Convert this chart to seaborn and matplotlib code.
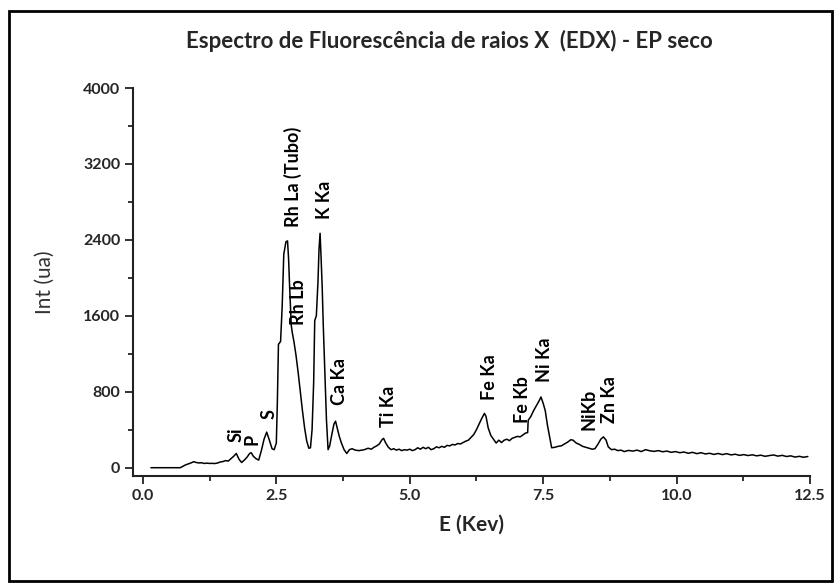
import numpy as np
import pandas as pd
import matplotlib
matplotlib.use("Agg")
import matplotlib.pyplot as plt
import seaborn as sns
from matplotlib.patches import Rectangle
from matplotlib.ticker import MultipleLocator

# energy (keV) and intensity (a.u.)
energy = [0.15, 0.70, 0.75, 0.80, 0.85, 0.90, 0.95, 1.00, 1.05, 1.10, 1.15, 1.20, 1.25, 1.30, 1.35,
          1.40, 1.45, 1.50, 1.55, 1.60, 1.65, 1.70, 1.75, 1.80, 1.85, 1.90, 1.95, 2.00, 2.03, 2.07,
          2.12, 2.17, 2.22, 2.27, 2.32, 2.37, 2.42, 2.46, 2.50, 2.52, 2.54, 2.58, 2.61, 2.64, 2.68,
          2.71, 2.73, 2.75, 2.78, 2.80, 2.83, 2.87, 2.91, 2.95, 2.99, 3.03, 3.07, 3.11, 3.14, 3.17,
          3.20, 3.22, 3.25, 3.28, 3.30, 3.32, 3.34, 3.36, 3.38, 3.41, 3.44, 3.47, 3.50, 3.54, 3.58,
          3.61, 3.64, 3.68, 3.72, 3.77, 3.82, 3.87, 3.92, 3.98, 4.05, 4.10, 4.15, 4.22, 4.28, 4.33,
          4.38, 4.43, 4.48, 4.51, 4.55, 4.60, 4.65, 4.70, 4.75, 4.80, 4.85, 4.90, 4.95, 5.00, 5.05,
          5.10, 5.15, 5.20, 5.25, 5.30, 5.35, 5.40, 5.45, 5.50, 5.55, 5.60, 5.65, 5.70, 5.75, 5.80,
          5.85, 5.90, 5.95, 6.00, 6.05, 6.10, 6.15, 6.20, 6.25, 6.30, 6.35, 6.40, 6.43, 6.47, 6.52,
          6.57, 6.62, 6.67, 6.72, 6.77, 6.82, 6.87, 6.92, 6.97, 7.02, 7.07, 7.12, 7.17, 7.21, 7.22,
          7.27, 7.32, 7.37, 7.42, 7.46, 7.50, 7.54, 7.58, 7.62, 7.66, 7.72, 7.78, 7.84, 7.90, 7.96,
          8.02, 8.06, 8.12, 8.18, 8.24, 8.30, 8.36, 8.42, 8.47, 8.53, 8.58, 8.63, 8.68, 8.72, 8.78,
          8.84, 8.90, 8.96, 9.02, 9.10, 9.18, 9.26, 9.34, 9.42, 9.50, 9.58, 9.66, 9.74, 9.82, 9.90,
          9.98, 10.06, 10.14, 10.22, 10.30, 10.38, 10.46, 10.54, 10.62, 10.70, 10.78, 10.86, 10.94,
          11.02, 11.10, 11.18, 11.26, 11.34, 11.42, 11.50, 11.58, 11.66, 11.74, 11.82, 11.90, 11.98,
          12.06, 12.14, 12.22, 12.30, 12.38, 12.46]
intensity = [0, 0, 15, 30, 40, 50, 63, 55, 50, 52, 45, 48, 45, 46, 44,
             50, 60, 65, 75, 70, 95, 120, 150, 90, 55, 80, 110, 150, 158, 120,
             95, 80, 180, 300, 375, 290, 200, 190, 260, 700, 1300, 1330, 1700, 2250, 2380,
             2390, 2200, 1900, 1500, 1420, 1330, 1180, 1000, 800, 600, 420, 280, 205, 210, 400,
             900, 1550, 1600, 1950, 2300, 2470, 2200, 1900, 1500, 1000, 500, 190, 230, 350, 460,
             490, 420, 330, 260, 190, 150, 190, 200, 185, 180, 185, 190, 205, 195, 215,
             230, 250, 295, 309, 260, 215, 190, 200, 185, 195, 180, 190, 185, 195, 180,
             190, 210, 195, 215, 200, 215, 190, 200, 220, 210, 225, 215, 235, 230, 245,
             240, 255, 250, 265, 280, 290, 320, 350, 400, 460, 520, 572, 540, 420, 340,
             300, 260, 290, 265, 290, 300, 285, 310, 320, 330, 325, 345, 365, 370, 500,
             540, 600, 650, 700, 745, 680, 600, 450, 330, 210, 215, 225, 230, 250, 270,
             295, 290, 260, 245, 225, 215, 205, 195, 200, 250, 300, 325, 290, 220, 190,
             195, 180, 185, 170, 182, 175, 185, 170, 190, 178, 172, 180, 168, 175, 162,
             170, 158, 165, 152, 162, 148, 158, 145, 152, 140, 150, 138, 148,
             135, 142, 130, 138, 128, 136, 125, 132, 120, 128, 134, 122, 130,
             118, 125, 112, 120, 110, 118]

# peak labels: text, energy, intensity where the label starts
peak_names = ["Si", "P", "S", "Rh La (Tubo)", "Rh Lb", "K Ka", "Ca Ka", "Ti Ka",
              "Fe Ka", "Fe Kb", "Ni Ka", "NiKb", "Zn Ka"]
peak_x = [1.75, 2.05, 2.36, 2.81, 2.91, 3.41, 3.69, 4.60, 6.49, 7.12, 7.53, 8.36, 8.74]
peak_y = [275, 240, 510, 2540, 1500, 2625, 660, 432, 713, 467, 905, 397, 467]

df = pd.DataFrame({"E": energy, "Int": intensity})

sns.set_style("ticks")
plt.rcParams["font.family"] = ["Lato", "DejaVu Sans"]

fig = plt.figure(figsize=(8.35, 5.87), dpi=100)
ax = fig.add_axes([0.159, 0.189, 0.811, 0.661])

sns.lineplot(data=df, x="E", y="Int", ax=ax, color="black", linewidth=1.1,
             sort=False, estimator=None)

for name, px, py in zip(peak_names, peak_x, peak_y):
    ax.text(px, py, name, rotation=90, ha="center", va="bottom",
            fontsize=13, fontweight="bold", color="black")

ax.set_xlim(-0.19, 12.5)
ax.set_ylim(-88, 4000)
ax.xaxis.set_major_locator(MultipleLocator(2.5))
ax.xaxis.set_minor_locator(MultipleLocator(1.25))
ax.yaxis.set_major_locator(MultipleLocator(800))
ax.yaxis.set_minor_locator(MultipleLocator(400))
ax.xaxis.set_major_formatter(matplotlib.ticker.FormatStrFormatter("%.1f"))

sns.despine(ax=ax)
for s in ["left", "bottom"]:
    ax.spines[s].set_linewidth(1.5)
    ax.spines[s].set_color("#222222")
ax.tick_params(which="major", length=5.5, width=1.3, color="#222222", labelsize=11.5)
ax.tick_params(which="minor", length=3.5, width=1.3, color="#222222")
for lab in ax.get_xticklabels() + ax.get_yticklabels():
    lab.set_fontweight("bold")

ax.set_xlabel("E (Kev)", fontsize=15, fontweight="bold", labelpad=9)
ax.set_ylabel("Int (ua)", fontsize=15, color="#333333", labelpad=20)
fig.text(0.538, 0.93, "Espectro de Fluorescência de raios X  (EDX) - EP seco",
         ha="center", va="center", fontsize=16, fontweight="bold")

fig.patches.append(Rectangle((0.011, 0.01), 0.985, 0.972, transform=fig.transFigure,
                             fill=False, edgecolor="black", linewidth=2))

plt.savefig("out.png", dpi=100)
